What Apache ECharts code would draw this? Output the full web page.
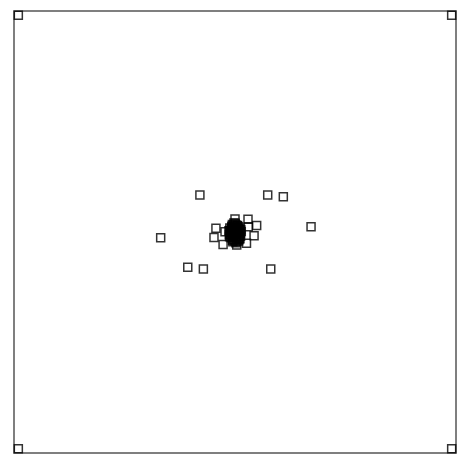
<!DOCTYPE html>
<html>
<head>
<meta charset="utf-8">
<script src="https://cdn.jsdelivr.net/npm/echarts@6/dist/echarts.min.js"></script>
<style>
  html, body { margin: 0; padding: 0; background: #fff; }
</style>
</head>
<body>
<div id="chart" style="width: 473px; height: 462px;"></div>
<script>
// frame corner points
var cornerX = [-100, 100, -100, 100];
var cornerY = [-100, -100, 100, 100];

// scattered points around the cluster
var outerX = [-16.2, 15.1, 22.3, 35.1, -34.3, -21.8, -14.6, 16.5, -8.8, -9.7, -5.5, 10.0, 8.8, 5.3, 6.0, 0.0, 0.8, 6.1, -4.6];
var outerY = [17.1, 17.1, 16.3, 2.4, -2.6, -16.3, -17.1, -17.1, 1.7, -2.5, -5.8, 3.0, -1.7, -5.2, 5.9, 6.0, -6.0, 2.4, 0.1];

// dense core
var coreX = [0.2, -1.1, 1.3, -2.0, 2.1, 0.5, -0.6, 1.8, -1.7, 0.9, -0.3, 2.6, -2.5, 1.0, -1.2, 0.0, 0.4, -0.8, 1.5, -1.5, 2.9, -2.8, 0.7, -0.1, 1.1, -2.2, 2.3, 0.3, -0.5, 1.7, 0.1, -1.0,
  -0.4, 0.6, -1.4, 1.6, -2.3, 2.4, -0.9, 0.8, -1.8, 1.9, 0.0, -0.2, 1.2, -1.3, 2.0, -2.1, 0.3, -0.7, 1.4, -1.6, 2.7, -2.6, 0.5, -0.3, 1.0, -1.1, 2.2, -2.4,
  0.9, -0.5, 1.3, -1.9, 0.1, -0.8, 1.8, -1.2, 0.4, -0.1];
var coreY = [-0.3, 0.8, -1.4, -0.6, 0.9, 1.9, -2.3, -0.2, 1.6, -3.0, 2.7, -1.8, -2.2, 0.4, -0.9, -4.2, 3.4, -3.5, 2.4, 2.6, 0.2, 0.6, -2.6, 1.2, 1.3, -1.5, -3.1, -1.1, 0.1, -4.0, 4.0, -4.5,
  0.3, -0.7, 0.0, 1.0, 0.7, -0.5, -1.6, 2.1, -2.7, -2.9, 1.5, -3.6, 3.0, 2.2, 1.7, -1.0, -2.0, 3.1, -3.4, -0.4, 1.1, -1.3, 0.5, -1.2, 2.9, -3.8, -2.0, 1.8,
  -4.4, 4.1, 0.6, 0.0, -0.8, 1.4, -3.3, 3.5, -5.0, 2.0];

var points = [];
[[cornerX, cornerY], [outerX, outerY], [coreX, coreY]].forEach(function (set) {
  for (var i = 0; i < set[0].length; i++) {
    points.push([set[0][i], set[1][i]]);
  }
});

var chart = echarts.init(document.getElementById('chart'));
chart.setOption({
  animation: false,
  grid: {
    left: 14,
    top: 11,
    width: 442,
    height: 442,
    show: true,
    borderColor: '#555',
    borderWidth: 1.5
  },
  xAxis: {
    type: 'value',
    min: -102,
    max: 102,
    axisLine: { show: false },
    axisTick: { show: false },
    axisLabel: { show: false },
    splitLine: { show: false }
  },
  yAxis: {
    type: 'value',
    min: -102,
    max: 102,
    axisLine: { show: false },
    axisTick: { show: false },
    axisLabel: { show: false },
    splitLine: { show: false }
  },
  series: [
    {
      type: 'scatter',
      symbol: 'rect',
      symbolSize: 8,
      itemStyle: {
        color: 'rgba(0,0,0,0)',
        borderColor: '#000',
        borderWidth: 1.5
      },
      data: points
    }
  ]
});
</script>
</body>
</html>
